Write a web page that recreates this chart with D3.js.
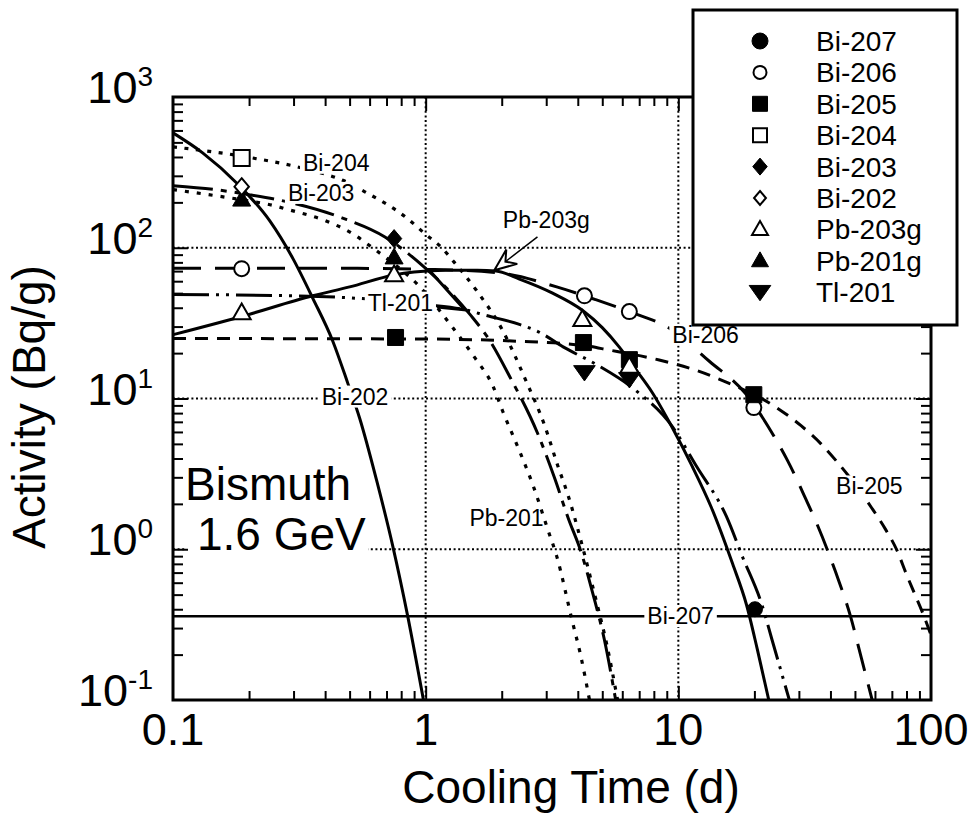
<!DOCTYPE html>
<html>
<head>
<meta charset="utf-8">
<title>Bismuth 1.6 GeV</title>
<script src="https://cdn.jsdelivr.net/npm/d3@7/dist/d3.min.js"></script>
<style>
  body { margin: 0; background: #fff; }
  svg { display: block; font-family: "Liberation Sans", Arial, Helvetica, sans-serif; }
</style>
</head>
<body>
<div id="chart"></div>
<script>

// values: [cooling time (d), activity (Bq/g)]
const bi207Line = [[0.1, 0.36], [100, 0.36]]
const bi206Line = [[0.1,73],[0.5,73],[1,72],[1.96,68],[3.3,55],[4.7,45.3],[6.9,36],[9,30],[13.3,17.6],[18.6,10.6],[20,9],[24.4,5.3],[27,3.9],[32,2.14],[35.2,1.5],[42,0.7],[48,0.36],[53,0.19],[58.5,0.1]]
const bi205Line = [[0.1,25],[1,24.8],[2.3,24],[4.2,22.5],[5.3,21],[8.4,18],[11.6,15.5],[17,12],[20,10.6],[25,8.5],[30.6,6.6],[36.7,5],[42.5,3.8],[50,2.7],[58,1.9],[66,1.36],[73,1.0],[80,0.68],[86,0.51],[92,0.39],[100,0.27]]
const bi204Line = [[0.1,467],[0.187,405],[0.33,335],[0.47,280],[0.58,233],[0.84,158],[1.01,121],[1.13,104],[1.34,75],[1.59,52],[2.0,29],[2.51,12.8],[2.95,6.7],[3.33,3.6],[3.67,2.25],[4.17,1.05],[4.74,0.45],[5.19,0.24],[5.75,0.1]]
const bi203Line = [[0.1,258],[0.15,242],[0.2,225],[0.29,200],[0.466,158],[0.69,118],[1.0,73],[1.25,51],[1.5,36],[1.8,24],[2.15,14],[2.77,5.9],[3.23,3.0],[3.67,1.6],[4.13,0.95],[4.6,0.5],[5.1,0.25],[5.65,0.1]]
const bi202Line = [[0.1,578],[0.131,426],[0.179,268],[0.242,150],[0.298,85],[0.358,46],[0.429,24],[0.492,12.6],[0.548,7.4],[0.64,2.85],[0.741,1.05],[0.849,0.36],[0.98,0.1]]
const pb203gLine = [[0.1,26.5],[0.187,35],[0.357,48],[0.5,55],[0.75,66],[0.9,69],[1.2,71],[1.6,71],[1.9,70],[2.35,62],[3.18,50],[4.17,38.5],[5.0,29.5],[5.83,22],[6.8,15.5],[7.87,11],[9.47,6.4],[11.3,3.6],[13.5,1.9],[16.4,0.8],[18.6,0.43],[20.5,0.22],[22.8,0.1]]
const pb201Line = [[0.1,243],[0.187,208],[0.242,193],[0.29,178],[0.406,150],[0.514,124],[0.616,100],[0.75,78],[0.92,58],[1.27,30],[1.57,18.5],[1.85,12],[2.02,8.2],[2.35,4.5],[2.65,2.7],[3.04,1.36],[3.3,0.9],[3.81,0.33],[4.1,0.2],[4.45,0.1]]
const tl201Line = [[0.1,49],[0.3,48],[0.56,46],[1.0,42],[1.43,38.8],[1.74,35.5],[2.35,31],[2.83,27.4],[3.5,22],[4.74,16.8],[6.7,11.5],[9.47,6.5],[11.8,3.55],[15.5,1.65],[17.9,0.9],[21.5,0.42],[23.5,0.25],[27.5,0.1]]

// measured points (markers)
const bi207Pts = [[20.1,0.40]]
const bi206Pts = [[0.187,72.6],[4.25,48],[6.4,37.7],[19.9,8.7]]
const bi205Pts = [[0.76,25.4],[4.21,23.5],[6.4,18.1],[19.9,10.6]]
const bi204Pts = [[0.187,394]]
const bi203Pts = [[0.75,115]]
const bi202Pts = [[0.187,254]]
const pb203gPts = [[0.187,37],[0.75,66],[4.17,33.3],[6.4,16.3]]
const pb201gPts = [[0.187,208],[0.75,86]]
const tl201Pts = [[4.25,14.9],[6.4,13.4]]

const legendNames = ["Bi-207","Bi-206","Bi-205","Bi-204","Bi-203","Bi-202","Pb-203g","Pb-201g","Tl-201"]
const legendShapes = ["circle","circle","square","square","diamond","diamond","triangle","triangle","triangleDown"]
const legendFilled = [true,false,true,false,true,false,false,true,true]

// inline curve labels: text, left end (time), middle (activity)
const labelText = ["Bi-204","Bi-203","Tl-201","Bi-202","Pb-203g","Bi-206","Bi-205","Pb-201","Bi-207"]
const labelTime = [0.327, 0.285, 0.59, 0.388, 2.02, 9.47, 42.1, 1.49, 7.54]
const labelAct  = [366, 231, 43.2, 10.3, 153, 26.5, 2.61, 1.6, 0.36]

const xTicks = [0.1, 1, 10, 100]
const yExponents = [3, 2, 1, 0, -1]

// ---------------------------------------------------------------
const W = 978, H = 820
const pLeft = 173, pRight = 931, pTop = 97, pBottom = 700

const x = d3.scaleLog([0.1, 100], [pLeft, pRight])
const y = d3.scaleLog([0.1, 1000], [pBottom, pTop])

const svg = d3.select("#chart").append("svg")
              .attr("width", W)
              .attr("height", H)

svg.append("rect").attr("width", W).attr("height", H).attr("fill", "white")

svg.append("defs").append("clipPath").attr("id", "plotClip")
   .append("rect")
   .attr("x", pLeft).attr("y", pTop)
   .attr("width", pRight - pLeft).attr("height", pBottom - pTop)

// dotted grid at the inner decades
const grid = svg.append("g")
                .attr("stroke", "black")
                .attr("stroke-width", 2)
                .attr("stroke-dasharray", "2,2.6")
grid.selectAll("line.gx").data([1, 10]).enter().append("line")
    .attr("x1", d => x(d)).attr("x2", d => x(d))
    .attr("y1", pTop).attr("y2", pBottom)
grid.selectAll("line.gy").data([1, 10, 100]).enter().append("line")
    .attr("x1", pLeft).attr("x2", pRight)
    .attr("y1", d => y(d)).attr("y2", d => y(d))

// box behind "Bismuth 1.6 GeV"
svg.append("rect")
   .attr("x", 186).attr("y", 456)
   .attr("width", 182).attr("height", 104)
   .attr("fill", "white")

// decay curves
const curves = [
  { data: bi207Line, dash: null, w: 2.5 },
  { data: bi206Line, dash: "28,14", w: 3 },
  { data: bi205Line, dash: "13,9", w: 3 },
  { data: bi204Line, dash: "4,7.5", w: 3.2 },
  { data: bi203Line, dash: "40,8,6,8", w: 3 },
  { data: pb201Line, dash: "4,8", w: 3.2 },
  { data: tl201Line, dash: "36,7,3,7,3,7", w: 3 },
  { data: pb203gLine, dash: null, w: 3 },
  { data: bi202Line, dash: null, w: 3 }
]

const dMaker = d3.line()
                 .x(d => x(d[0]))
                 .y(d => y(d[1]))
                 .curve(d3.curveMonotoneX)

const curveG = svg.append("g").attr("clip-path", "url(#plotClip)")
for (let c of curves) {
  curveG.append("path")
        .datum(c.data)
        .attr("fill", "none")
        .attr("stroke", "black")
        .attr("stroke-width", c.w)
        .attr("stroke-dasharray", c.dash)
        .attr("stroke-linecap", "butt")
        .attr("d", dMaker)
}

// odd leader near the Tl-201 label
const tlLeader = [[1.11, 40.5], [1.43, 38.7], [1.04, 70]]
curveG.append("path")
      .datum(tlLeader)
      .attr("fill", "none").attr("stroke", "black").attr("stroke-width", 3)
      .attr("d", d3.line().x(d => x(d[0])).y(d => y(d[1])))

// inline labels with white backing
const labG = svg.append("g")
for (let i = 0; i < labelText.length; i++) {
  const t = labG.append("text")
                .attr("x", x(labelTime[i]))
                .attr("y", y(labelAct[i]) + 8)
                .attr("font-size", 23)
                .text(labelText[i])
  if (labelText[i] === "Pb-201") continue
  const bb = t.node().getBBox()
  labG.insert("rect", () => t.node())
      .attr("x", bb.x - 3).attr("y", bb.y + 2)
      .attr("width", bb.width + 6).attr("height", bb.height - 4)
      .attr("fill", "white")
}

// Pb-203g pointer arrow
const arrowTail = [2.77, 118], arrowTip = [1.87, 71]
{
  const tx = x(arrowTip[0]), ty = y(arrowTip[1])
  const sx = x(arrowTail[0]), sy = y(arrowTail[1])
  const ang = Math.atan2(sy - ty, sx - tx)
  const pt = (len, off) => [tx + len * Math.cos(ang) - off * Math.sin(ang),
                            ty + len * Math.sin(ang) + off * Math.cos(ang)]
  svg.append("line")
     .attr("x1", sx).attr("y1", sy).attr("x2", pt(12, 0)[0]).attr("y2", pt(12, 0)[1])
     .attr("stroke", "black").attr("stroke-width", 1.5)
  const a = pt(22, 9), n = pt(14, 0), b = pt(22, -9)
  svg.append("path")
     .attr("d", `M${tx},${ty}L${a}L${n}L${b}Z`)
     .attr("fill", "white").attr("stroke", "black").attr("stroke-width", 2)
}

// marker shapes
function shapePath(shape, s) {
  if (shape === "circle")
    return `M${-s},0a${s},${s} 0 1,0 ${2*s},0a${s},${s} 0 1,0 ${-2*s},0Z`
  if (shape === "square")
    return `M${-s},${-s}h${2*s}v${2*s}h${-2*s}Z`
  if (shape === "diamond")
    return `M0,${-s}L${s*0.85},0L0,${s}L${-s*0.85},0Z`
  if (shape === "triangle")
    return `M0,${-s*1.05}L${s},${s*0.7}L${-s},${s*0.7}Z`
  return `M${-s*1.2},${-s*0.75}L${s*1.2},${-s*0.75}L0,${s*0.95}Z`
}

function drawMarker(g, shape, filled, cx, cy, s) {
  g.append("path")
   .attr("transform", `translate(${cx},${cy})`)
   .attr("d", shapePath(shape, s))
   .attr("fill", filled ? "black" : "white")
   .attr("stroke", "black")
   .attr("stroke-width", filled ? 1 : 2)
}

const markerSets = [
  { pts: bi207Pts, shape: "circle", filled: true, s: 7.5 },
  { pts: bi206Pts, shape: "circle", filled: false, s: 7.5 },
  { pts: bi205Pts, shape: "square", filled: true, s: 8 },
  { pts: bi204Pts, shape: "square", filled: false, s: 8 },
  { pts: pb201gPts, shape: "triangle", filled: true, s: 9 },
  { pts: tl201Pts, shape: "triangleDown", filled: true, s: 9 },
  { pts: bi203Pts, shape: "diamond", filled: true, s: 9 },
  { pts: bi202Pts, shape: "diamond", filled: false, s: 8.5 },
  { pts: pb203gPts, shape: "triangle", filled: false, s: 9 }
]
const markG = svg.append("g")
for (let m of markerSets) {
  for (let p of m.pts) drawMarker(markG, m.shape, m.filled, x(p[0]), y(p[1]), m.s)
}

// frame and inward ticks on all four sides
svg.append("rect")
   .attr("x", pLeft).attr("y", pTop)
   .attr("width", pRight - pLeft).attr("height", pBottom - pTop)
   .attr("fill", "none").attr("stroke", "black").attr("stroke-width", 3)

const minorX = [], minorY = []
for (let dec of [0.1, 1, 10]) for (let k = 2; k <= 9; k++) minorX.push(dec * k)
for (let dec of [0.1, 1, 10, 100]) for (let k = 2; k <= 9; k++) minorY.push(dec * k)

function tickAxis(axisFn, scale, values, size, transform) {
  const g = svg.append("g")
               .attr("transform", transform)
               .call(axisFn(scale).tickValues(values).tickSize(size).tickSizeOuter(0).tickFormat(""))
  g.select(".domain").remove()
  g.selectAll("line").attr("stroke-width", 2)
}
tickAxis(d3.axisBottom, x, minorX, -9, `translate(0,${pBottom})`)
tickAxis(d3.axisBottom, x, [1, 10], -14, `translate(0,${pBottom})`)
tickAxis(d3.axisTop, x, minorX, -9, `translate(0,${pTop})`)
tickAxis(d3.axisTop, x, [1, 10], -14, `translate(0,${pTop})`)
tickAxis(d3.axisLeft, y, minorY, -10, `translate(${pLeft},0)`)
tickAxis(d3.axisLeft, y, [1, 10, 100], -15, `translate(${pLeft},0)`)
tickAxis(d3.axisRight, y, minorY, -10, `translate(${pRight},0)`)
tickAxis(d3.axisRight, y, [1, 10, 100], -15, `translate(${pRight},0)`)

// tick labels
svg.append("g").selectAll("text").data(xTicks).enter().append("text")
   .attr("x", d => x(d)).attr("y", 745)
   .attr("text-anchor", "middle")
   .attr("font-size", 45)
   .text(d => d)

const yLab = svg.append("g").selectAll("text").data(yExponents).enter().append("text")
                .attr("x", 153).attr("y", d => y(Math.pow(10, d)) + 6)
                .attr("text-anchor", "end")
                .attr("font-size", 45)
yLab.append("tspan").text("10")
yLab.append("tspan").attr("dy", -17).attr("font-size", 28).text(d => d)

// axis titles
svg.append("text")
   .attr("x", 571).attr("y", 803)
   .attr("text-anchor", "middle")
   .attr("font-size", 46)
   .text("Cooling Time (d)")

svg.append("text")
   .attr("transform", "translate(45,407) rotate(-90)")
   .attr("text-anchor", "middle")
   .attr("font-size", 46)
   .text("Activity (Bq/g)")

// big annotation
svg.append("text").attr("x", 185).attr("y", 500).attr("font-size", 46).text("Bismuth")
svg.append("text").attr("x", 197).attr("y", 550).attr("font-size", 46).text("1.6 GeV")

// legend box
const leg = svg.append("g")
leg.append("rect")
   .attr("x", 693).attr("y", 10)
   .attr("width", 264).attr("height", 315)
   .attr("fill", "white").attr("stroke", "black").attr("stroke-width", 3)

const legSize = [8, 6.5, 7.5, 7, 8.5, 7, 8, 8.5, 9]
for (let i = 0; i < legendNames.length; i++) {
  const base = 51 + 31.4 * i
  drawMarker(leg, legendShapes[i], legendFilled[i], 760, base - 10, legSize[i])
  leg.append("text")
     .attr("x", 816).attr("y", base)
     .attr("font-size", 28)
     .text(legendNames[i])
}

</script>
</body>
</html>
